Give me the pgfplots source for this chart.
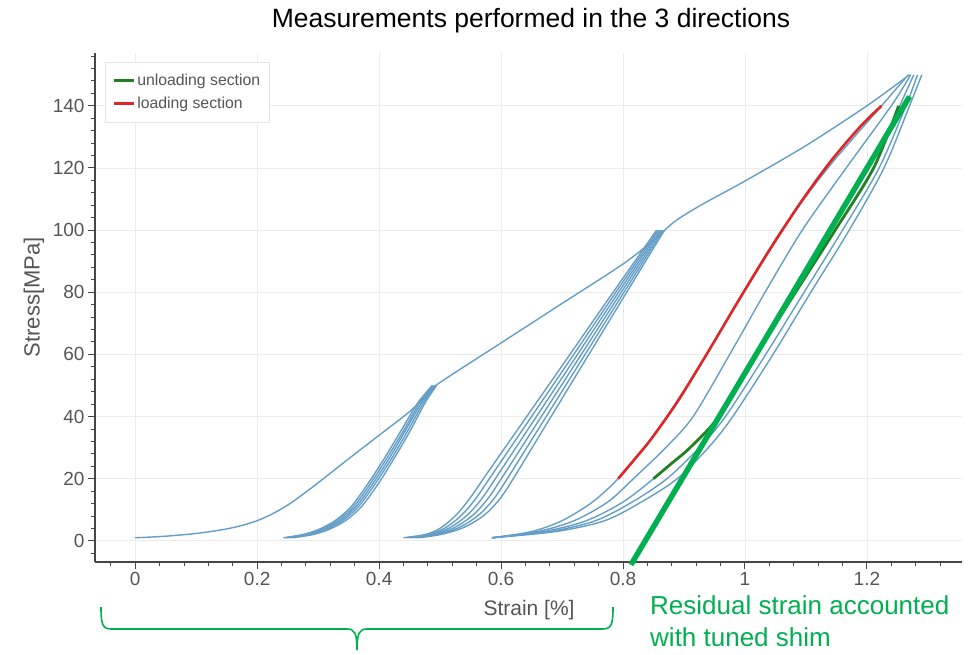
\documentclass[border=0pt]{standalone}
\usepackage{pgfplots}
\pgfplotsset{compat=1.18}
\usepackage{fontspec}
\setmainfont{Liberation Sans}

\definecolor{curve}{RGB}{100,158,198}
\definecolor{loadred}{RGB}{222,38,38}
\definecolor{unloadgreen}{RGB}{34,128,34}
\definecolor{shimgreen}{RGB}{0,176,80}
\definecolor{axisgray}{RGB}{70,70,70}
\definecolor{labelgray}{RGB}{85,85,85}
\definecolor{gridgray}{RGB}{236,236,236}
\definecolor{legendgray}{RGB}{228,228,228}

\begin{document}
\begin{tikzpicture}

\begin{axis}[
    at={(95pt,92pt)},
    anchor=south west,
    scale only axis,
    width=867pt,
    height=509pt,
    xmin=-0.066, xmax=1.356,
    ymin=-6.8, ymax=157,
    axis x line=bottom,
    axis y line=left,
    axis line style={-, line width=1.2pt, color=axisgray},
    xtick={0,0.2,0.4,0.6,0.8,1,1.2},
    ytick={0,20,40,60,80,100,120,140},
    minor xtick={-0.04,0,...,1.32},
    minor ytick={-4,0,...,156},
    tick align=outside,
    major tick length=7pt,
    minor tick length=4pt,
    every tick/.style={color=axisgray, line width=1pt},
    xmajorgrids, ymajorgrids,
    grid style={color=gridgray, line width=0.8pt},
    tick label style={font=\fontsize{19}{22}\selectfont, text=labelgray},
    /pgf/number format/assume math mode=true,
    /pgf/number format/fixed,
    xlabel={Strain [\%]},
    ylabel={Stress[MPa]},
    xlabel style={at={(axis description cs:0.5006,-0.094)}, anchor=center,
                  font=\fontsize{21}{24}\selectfont, text=labelgray},
    ylabel style={at={(axis description cs:-0.0704,0.52)}, anchor=center, rotate=0,
                  font=\fontsize{22}{25}\selectfont, text=labelgray},
    legend style={at={(axis description cs:0.0115,0.982)}, anchor=north west,
                  draw=legendgray, line width=0.6pt, fill=white,
                  inner xsep=7pt, inner ysep=10pt, row sep=6pt,
                  font=\fontsize{15.8}{18}\selectfont, text=labelgray,
                  cells={anchor=west}},
    legend image code/.code={\draw[#1, line width=3pt] (0pt,0pt) -- (20pt,0pt);},
    clip=false,
]

% first loading envelope
\addplot[curve, line width=1.4pt, smooth, forget plot] coordinates {
(0,1) (0.05,1.5) (0.1,2.4) (0.14,3.5) (0.17,4.7) (0.2,6.5) (0.225,8.7)
(0.25,11.5) (0.275,15) (0.3,18.7) (0.35,26.4) (0.4,34) (0.45,41.6)
(0.49,49) (0.5,51) (0.6,63.7) (0.7,76.4) (0.8,89.1) (0.855,97.5)
(0.87,100.3) (0.89,103.5) (0.93,108.3) (1.0,115.8) (1.1,127.2)
(1.2,140) (1.27,150)
};

% cycles to 50 MPa
\addplot[curve, line width=1.4pt, smooth, forget plot] coordinates {
(0.243,1) (0.274,2) (0.300,3.6) (0.327,6.4) (0.354,11) (0.382,18.5) (0.410,27) (0.437,35.8) (0.463,44.3) (0.487,50)};
\addplot[curve, line width=1.4pt, smooth, forget plot] coordinates {
(0.246,1) (0.278,2) (0.304,3.6) (0.331,6.4) (0.358,11) (0.386,18.5) (0.414,27) (0.441,35.8) (0.466,44.3) (0.489,50)};
\addplot[curve, line width=1.4pt, smooth, forget plot] coordinates {
(0.249,1) (0.282,2) (0.308,3.6) (0.335,6.4) (0.362,11) (0.390,18.5) (0.418,27) (0.444,35.8) (0.469,44.3) (0.490,50)};
\addplot[curve, line width=1.4pt, smooth, forget plot] coordinates {
(0.253,1) (0.286,2) (0.312,3.6) (0.339,6.4) (0.366,11) (0.394,18.5) (0.422,27) (0.448,35.8) (0.472,44.3) (0.492,50)};
\addplot[curve, line width=1.4pt, smooth, forget plot] coordinates {
(0.258,1) (0.291,2) (0.317,3.6) (0.344,6.4) (0.371,11) (0.399,18.5) (0.426,27) (0.452,35.8) (0.475,44.3) (0.494,50)};

% cycles to 100 MPa
\addplot[curve, line width=1.4pt, smooth, forget plot] coordinates {
(0.440,1) (0.475,2) (0.495,3.5) (0.507,5) (0.522,7.5) (0.534,10) (0.550,14) (0.571,20)
(0.6065,30) (0.642,40) (0.6775,50) (0.713,60) (0.766,75) (0.8195,90) (0.855,100)};
\addplot[curve, line width=1.4pt, smooth, forget plot] coordinates {
(0.445,1) (0.480,2) (0.5016,3.5) (0.5148,5) (0.531,7.5) (0.5436,10) (0.560,14) (0.5808,20)
(0.6154,30) (0.650,40) (0.6846,50) (0.7192,60) (0.7709,75) (0.823,90) (0.8576,100)};
\addplot[curve, line width=1.4pt, smooth, forget plot] coordinates {
(0.450,1) (0.485,2) (0.5082,3.5) (0.5226,5) (0.540,7.5) (0.5532,10) (0.570,14) (0.5906,20)
(0.6243,30) (0.658,40) (0.6917,50) (0.7254,60) (0.7758,75) (0.8265,90) (0.8602,100)};
\addplot[curve, line width=1.4pt, smooth, forget plot] coordinates {
(0.455,1) (0.490,2) (0.5148,3.5) (0.5304,5) (0.549,7.5) (0.5628,10) (0.580,14) (0.6004,20)
(0.6332,30) (0.666,40) (0.6988,50) (0.7316,60) (0.7807,75) (0.830,90) (0.8628,100)};
\addplot[curve, line width=1.4pt, smooth, forget plot] coordinates {
(0.460,1) (0.495,2) (0.5214,3.5) (0.5382,5) (0.558,7.5) (0.5724,10) (0.590,14) (0.6102,20)
(0.6421,30) (0.674,40) (0.7059,50) (0.7378,60) (0.7856,75) (0.8335,90) (0.8654,100)};
\addplot[curve, line width=1.4pt, smooth, forget plot] coordinates {
(0.465,1) (0.500,2) (0.528,3.5) (0.546,5) (0.567,7.5) (0.582,10) (0.600,14) (0.620,20)
(0.651,30) (0.682,40) (0.713,50) (0.744,60) (0.7905,75) (0.837,90) (0.868,100)};

% cycles to 150 MPa
\addplot[curve, line width=1.4pt, smooth, forget plot] coordinates {
(0.585,1) (0.65,3) (0.70,6.5) (0.75,12.5) (0.792,20) (0.835,30) (0.872,40) (0.937,60)
(0.997,80) (1.06,100) (1.136,120) (1.224,140) (1.268,150)};
\addplot[curve, line width=1.4pt, smooth, forget plot] coordinates {
(0.585,1) (0.66,3) (0.72,6.5) (0.775,12.5) (0.817,20) (0.87,30) (0.915,40) (0.975,60)
(1.033,80) (1.094,100) (1.166,120) (1.24,140) (1.272,150)};
\addplot[curve, line width=1.4pt, smooth, forget plot] coordinates {
(0.585,1) (0.67,3) (0.74,6.5) (0.80,12.5) (0.850,20) (0.91,30) (0.957,40) (1.019,60)
(1.083,80) (1.148,100) (1.211,120) (1.254,140) (1.277,150)};
\addplot[curve, line width=1.4pt, smooth, forget plot] coordinates {
(0.585,1) (0.68,3) (0.755,6.5) (0.815,12.5) (0.872,20) (0.925,30) (0.968,40) (1.034,60)
(1.097,80) (1.16,100) (1.22,120) (1.264,140) (1.283,150)};
\addplot[curve, line width=1.4pt, smooth, forget plot] coordinates {
(0.585,1) (0.69,3) (0.77,6.5) (0.83,12.5) (0.889,20) (0.94,30) (0.98,40) (1.046,60)
(1.108,80) (1.171,100) (1.228,120) (1.27,140) (1.29,150)};

% unloading section
\addplot[unloadgreen, line width=2.8pt, smooth] coordinates {
(0.850,20) (0.88,25) (0.91,30) (0.957,40) (1.019,60) (1.083,80) (1.148,100) (1.211,120) (1.252,140)};
\addlegendentry{unloading section}

% loading section
\addplot[loadred, line width=2.6pt, smooth] coordinates {
(0.792,20) (0.82,26.5) (0.847,33) (0.89,45) (0.937,60) (0.99,77.5) (1.04,93.5)
(1.09,108.5) (1.14,122) (1.19,133.5) (1.224,140)};
\addlegendentry{loading section}

% residual strain line
\addplot[shimgreen, line width=5.5pt, forget plot] coordinates {(0.813,-7.7) (1.27,143)};

\end{axis}

% title
\node[anchor=base, font=\fontsize{26.5}{30}\selectfont] at (531pt,626pt)
  {Measurements performed in the 3 directions};

% brace
\draw[shimgreen, line width=1.6pt]
  (101pt,47pt) .. controls (101pt,28pt) and (103pt,25pt) .. (112pt,25pt)
  -- (347pt,25pt) .. controls (354pt,25pt) and (357pt,22pt) .. (357pt,4pt)
  .. controls (357pt,22pt) and (360pt,25pt) .. (367pt,25pt)
  -- (602pt,25pt) .. controls (611pt,25pt) and (613pt,28pt) .. (613pt,47pt);

% annotation
\node[anchor=west, align=left, text=shimgreen, inner sep=0pt,
      font=\fontsize{26}{32}\selectfont] at (650pt,33pt)
  {Residual strain accounted\\with tuned shim};

\pgfresetboundingbox
\path[use as bounding box] (0pt,0pt) rectangle (973pt,654pt);
\end{tikzpicture}
\end{document}
